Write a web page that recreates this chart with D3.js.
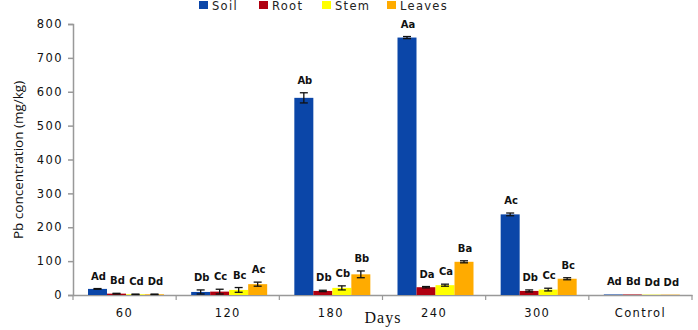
<!DOCTYPE html>
<html>
<head>
<meta charset="utf-8">
<title>Pb concentration</title>
<script src="https://cdn.jsdelivr.net/npm/d3@7"></script>
<style>
  body { margin: 0; background: #fff; }
  svg { display: block; }
  .tick text { font-family: "DejaVu Sans", sans-serif; font-size: 11.5px; fill: #111; letter-spacing: 1.4px; }
  .lbl { font-family: "DejaVu Sans", sans-serif; font-size: 10px; font-weight: bold; fill: #111; }
  .leg { font-family: "DejaVu Sans", sans-serif; font-size: 11.5px; fill: #222; letter-spacing: 1.3px; }
</style>
</head>
<body>
<script>
var days = ["60", "120", "180", "240", "300", "Control"];
var series = ["Soil", "Root", "Stem", "Leaves"];
var colours = ["#0b46a8", "#b00010", "#ffff00", "#ffab00"];

// mean values per day, one array per part
var soil   = [18, 9, 582, 760, 238, 1.5];
var root   = [4, 10, 12, 23, 12, 1.5];
var stem   = [2, 15, 21, 29, 16, 1];
var leaves = [2, 32, 61, 98, 48, 1];

// error (half width)
var soilErr   = [1, 6, 15, 3, 4, 0];
var rootErr   = [1, 7, 2, 2, 3, 0];
var stemErr   = [0.5, 7, 6, 3, 4, 0];
var leavesErr = [0.5, 6, 10, 3, 3, 0];

var soilLbl   = ["Ad", "Db", "Ab", "Aa", "Ac", "Ad"];
var rootLbl   = ["Bd", "Cc", "Db", "Da", "Db", "Bd"];
var stemLbl   = ["Cd", "Bc", "Cb", "Ca", "Cc", "Dd"];
var leavesLbl = ["Dd", "Ac", "Bb", "Ba", "Bc", "Dd"];

var yTicks = [0, 100, 200, 300, 400, 500, 600, 700, 800];

var values = [soil, root, stem, leaves];
var errs = [soilErr, rootErr, stemErr, leavesErr];
var lbls = [soilLbl, rootLbl, stemLbl, leavesLbl];

var w = 698, h = 330;
var margin = {top: 24, right: 6, bottom: 35, left: 73};

var svg = d3.select("body").append("svg")
  .attr("width", w)
  .attr("height", h);

var x = d3.scaleBand().domain(days).range([margin.left, w - margin.right]).padding(0);
var xi = d3.scaleBand().domain(series).range([15, 15 + 76]).padding(0);
var y = d3.scaleLinear().domain([0, 800]).range([h - margin.bottom, margin.top]);

// y axis
var yAxis = svg.append("g")
  .attr("transform", "translate(" + margin.left + ",0)")
  .call(d3.axisLeft(y).tickValues(yTicks).tickSize(5).tickPadding(5));
yAxis.select(".domain").attr("stroke", "#999").attr("stroke-width", 1.5);
yAxis.selectAll(".tick line").attr("stroke", "#999").attr("stroke-width", 1.5);

// x axis
var xAxis = svg.append("g")
  .attr("transform", "translate(0," + y(0) + ")")
  .call(d3.axisBottom(x).tickSize(0).tickPadding(14));
xAxis.select(".domain").attr("stroke", "#999").attr("stroke-width", 1.5);
var bounds = days.map(function(d) { return x(d); }).concat([x(days[days.length - 1]) + x.bandwidth()]);
xAxis.selectAll("line.sep").data(bounds).enter().append("line")
  .attr("class", "sep")
  .attr("x1", function(d) { return d; }).attr("x2", function(d) { return d; })
  .attr("y1", 0).attr("y2", 5)
  .attr("stroke", "#999").attr("stroke-width", 1.2);

// bars
series.forEach(function(s, k) {
  var g = svg.append("g");
  var data = days.map(function(d, i) {
    return {day: d, v: values[k][i], e: errs[k][i], l: lbls[k][i]};
  });
  g.selectAll("rect").data(data).enter().append("rect")
    .attr("x", function(d) { return x(d.day) + xi(s); })
    .attr("y", function(d) { return y(d.v); })
    .attr("width", xi.bandwidth())
    .attr("height", function(d) { return y(0) - y(d.v); })
    .attr("fill", colours[k]);

  var eb = g.selectAll("g.err").data(data.filter(function(d) { return d.e > 0; })).enter().append("g")
    .attr("class", "err")
    .attr("stroke", "#111").attr("stroke-width", 1.3);
  var cx = function(d) { return x(d.day) + xi(s) + xi.bandwidth() / 2; };
  eb.append("line")
    .attr("x1", cx).attr("x2", cx)
    .attr("y1", function(d) { return y(d.v - d.e); })
    .attr("y2", function(d) { return y(d.v + d.e); });
  eb.append("line")
    .attr("x1", function(d) { return cx(d) - 4; }).attr("x2", function(d) { return cx(d) + 4; })
    .attr("y1", function(d) { return y(d.v + d.e); }).attr("y2", function(d) { return y(d.v + d.e); });
  eb.append("line")
    .attr("x1", function(d) { return cx(d) - 4; }).attr("x2", function(d) { return cx(d) + 4; })
    .attr("y1", function(d) { return y(Math.max(0, d.v - d.e)); }).attr("y2", function(d) { return y(Math.max(0, d.v - d.e)); });

  g.selectAll("text").data(data).enter().append("text")
    .attr("class", "lbl")
    .attr("text-anchor", "middle")
    .attr("x", function(d) { return cx(d) + 1; })
    .attr("y", function(d) { return y(d.v + d.e) - 9; })
    .text(function(d) { return d.l; });
});

// legend
var legX = [199, 259, 322, 387];
var leg = svg.append("g");
series.forEach(function(s, k) {
  leg.append("rect").attr("x", legX[k]).attr("y", 1).attr("width", 9).attr("height", 8).attr("fill", colours[k]);
  leg.append("text").attr("class", "leg").attr("x", legX[k] + 13).attr("y", 10).text(s);
});

// axis titles
svg.append("text")
  .attr("transform", "translate(23,160) rotate(-90)")
  .attr("text-anchor", "middle")
  .style("font-family", "'Open Sans', sans-serif")
  .style("font-size", "13.5px")
  .style("fill", "#111")
  .text("Pb concentration (mg/kg)");

svg.append("text")
  .attr("x", 383).attr("y", 323)
  .attr("text-anchor", "middle")
  .style("font-family", "'Liberation Serif', serif")
  .style("font-size", "16px")
  .style("letter-spacing", "1px")
  .style("fill", "#111")
  .text("Days");
</script>
</body>
</html>
